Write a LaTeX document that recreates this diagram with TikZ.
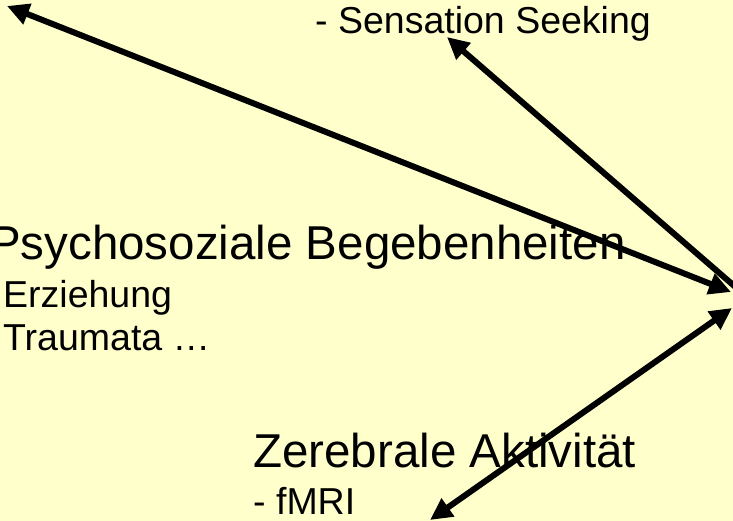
\documentclass[tikz,border=0pt]{standalone}
\usepackage{fontspec}
\setmainfont{Liberation Sans}
\usetikzlibrary{arrows.meta}
\definecolor{bgyellow}{RGB}{255,255,204}
\tikzset{
  headtext/.style={anchor=base west, inner sep=0pt, font=\fontsize{47.5}{56}\selectfont},
  subtext/.style={anchor=base west, inner sep=0pt, font=\fontsize{37.5}{44}\selectfont},
  link/.style={line width=6pt, {Triangle[length=22pt,width=21pt]}-{Triangle[length=22pt,width=21pt]}}
}
\begin{document}
\begin{tikzpicture}[x=1pt,y=-1pt]
\fill[bgyellow] (0,0) rectangle (733,521);
\useasboundingbox (0,0) rectangle (733,521);
\clip (0,0) rectangle (733,521);
% texts
\node[subtext] (ss) at (315,34) {- Sensation Seeking};
\node[headtext] (psy) at (-11,260) {Psychosoziale Begebenheiten};
\node[subtext] (erz) at (3,307) {Erziehung};
\node[subtext] (trau) at (3,350) {Traumata …};
\node[headtext] (zer) at (253,467) {Zerebrale Aktivität};
\node[subtext] (fmri) at (253,514) {- fMRI};
% arrow end points
\coordinate (ul) at (7,6);
\coordinate (hubA) at (731,292);
\coordinate (ssend) at (447,37);
\coordinate (hubB) at (762,310);
\coordinate (hubC) at (732,308);
\coordinate (fmend) at (430,520);
% connectors
\draw[link] (ul) -- (hubA);
\draw[link] (ssend) -- (hubB);
\draw[link] (hubC) -- (fmend);
\end{tikzpicture}
\end{document}
